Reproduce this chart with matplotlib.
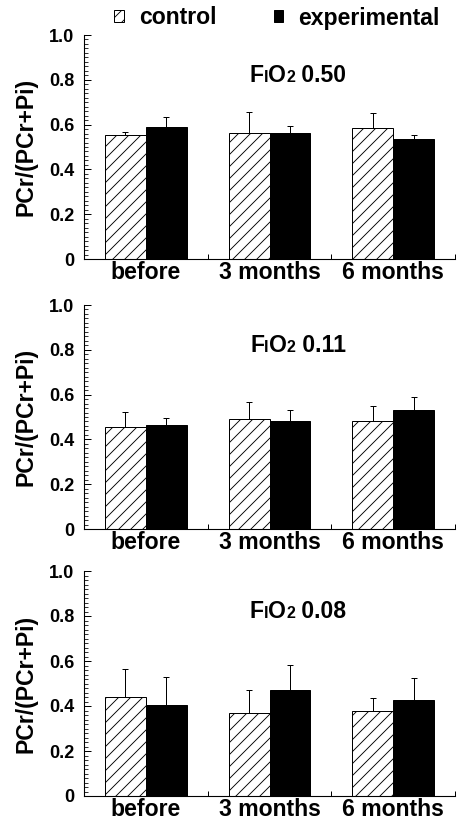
import numpy as np
import matplotlib
matplotlib.use('Agg')
import matplotlib.pyplot as plt
from matplotlib.patches import Patch
from matplotlib.ticker import MultipleLocator, FixedLocator
from matplotlib.offsetbox import TextArea, HPacker, AnnotationBbox

plt.rcParams['font.family'] = ['Liberation Sans', 'DejaVu Sans']
plt.rcParams['font.weight'] = 'bold'
plt.rcParams['hatch.linewidth'] = 0.9

# data
groups = ['before', '3 months', '6 months']
fio2_labels = ['0.50', '0.11', '0.08']
ytick_vals = [0, 0.2, 0.4, 0.6, 0.8, 1.0]
ytick_labels = ['0', '0.2', '0.4', '0.6', '0.8', '1.0']

control_mean = [[0.554, 0.563, 0.586],
                [0.457, 0.491, 0.481],
                [0.441, 0.370, 0.376]]
control_sd = [[0.011, 0.095, 0.067],
              [0.067, 0.077, 0.068],
              [0.122, 0.100, 0.061]]
exp_mean = [[0.589, 0.563, 0.534],
            [0.464, 0.482, 0.531],
            [0.403, 0.470, 0.428]]
exp_sd = [[0.045, 0.031, 0.018],
          [0.030, 0.049, 0.060],
          [0.127, 0.112, 0.095]]

# 72 dpi so that 1 pt = 1 px (hatch spacing follows dpi)
fig = plt.figure(figsize=(459 / 72, 826 / 72), dpi=72)

# axes boxes in pixels: (bottom_y, top_y)
panels_px = [(259, 35), (529, 305), (796, 571)]
left_px, right_px = 84, 455
W, H = 459, 826

x = np.arange(len(groups))
w = 0.33

for i, (b, t) in enumerate(panels_px):
    ax = fig.add_axes([left_px / W, 1 - b / H, (right_px - left_px) / W, (b - t) / H])

    ax.bar(x - w / 2, control_mean[i], w, color='white', edgecolor='black',
           hatch='//', linewidth=1.0, zorder=2)
    ax.bar(x + w / 2, exp_mean[i], w, color='black', edgecolor='black',
           linewidth=1.0, zorder=2)
    ax.errorbar(x - w / 2, control_mean[i], yerr=[np.zeros(3), control_sd[i]],
                fmt='none', ecolor='black', elinewidth=1.0, capsize=3, capthick=1.0, zorder=1)
    ax.errorbar(x + w / 2, exp_mean[i], yerr=[np.zeros(3), exp_sd[i]],
                fmt='none', ecolor='black', elinewidth=1.0, capsize=3, capthick=1.0, zorder=1)

    ax.set_xlim(-0.5, 2.5)
    ax.set_ylim(0, 1.0)
    ax.spines['top'].set_visible(False)
    ax.spines['right'].set_visible(False)
    ax.spines['left'].set_linewidth(1.1)
    ax.spines['bottom'].set_linewidth(1.1)

    ax.set_yticks(ytick_vals)
    ax.set_yticklabels(ytick_labels)
    ax.yaxis.set_minor_locator(MultipleLocator(0.02))
    ax.tick_params(axis='y', which='major', direction='in', length=7, width=1,
                   labelsize=18, pad=10)
    ax.tick_params(axis='y', which='minor', direction='in', length=3.5, width=0.8)

    ax.set_xticks(x)
    ax.set_xticklabels(groups)
    ax.xaxis.set_minor_locator(FixedLocator([0.5, 1.5, 2.5]))
    ax.tick_params(axis='x', which='major', length=0, labelsize=23, pad=2)
    ax.tick_params(axis='x', which='minor', direction='in', length=5, width=1)

    ax.set_ylabel('PCr/(PCr+Pi)', fontsize=23, fontweight='bold')
    ax.yaxis.set_label_coords(-0.125, 0.5)

    # panel title: F(I)O(2) value with small I and 2
    big = dict(fontsize=23, fontweight='bold', color='black')
    small = dict(fontsize=16, fontweight='bold', color='black')
    parts = [TextArea('F', textprops=big), TextArea('I', textprops=small),
             TextArea('O', textprops=big), TextArea('2', textprops=small),
             TextArea(' ' + fio2_labels[i], textprops=big)]
    pack = HPacker(children=parts, align='baseline', pad=0, sep=0)
    ab = AnnotationBbox(pack, (1.23, 0.82), xycoords='data', frameon=False,
                        box_alignment=(0.5, 0.5), pad=0)
    ax.add_artist(ab)

handles = [Patch(facecolor='white', edgecolor='black', hatch='//', linewidth=1.0),
           Patch(facecolor='black', edgecolor='black')]
fig.legend(handles, ['control', 'experimental'], loc='center',
           bbox_to_anchor=(277 / W, 1 - 18 / H), ncol=2, frameon=False,
           prop={'size': 23, 'weight': 'bold'}, handlelength=0.42, handleheight=0.42,
           handletextpad=0.65, columnspacing=2.5, borderpad=0, borderaxespad=0)

fig.savefig('out.png', dpi=72)
